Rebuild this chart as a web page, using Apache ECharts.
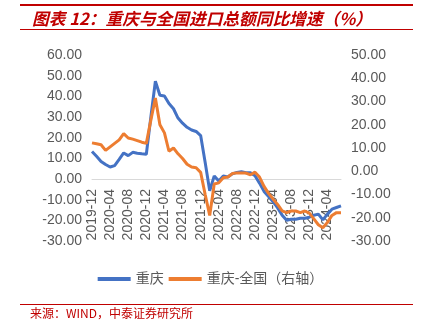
<!DOCTYPE html>
<html>
<head>
<meta charset="utf-8">
<script src="https://cdn.jsdelivr.net/npm/echarts@6/dist/echarts.min.js"></script>
<style>
html,body{margin:0;padding:0;background:#fff;}
#main{width:421px;height:326px;}
</style>
</head>
<body>
<div id="main"></div>
<script>
const categories = [
  '2019-12','2020-01','2020-02','2020-03','2020-04','2020-05','2020-06','2020-07','2020-08','2020-09','2020-10','2020-11',
  '2020-12','2021-01','2021-02','2021-03','2021-04','2021-05','2021-06','2021-07','2021-08','2021-09','2021-10','2021-11',
  '2021-12','2022-01','2022-02','2022-03','2022-04','2022-05','2022-06','2022-07','2022-08','2022-09','2022-10','2022-11',
  '2022-12','2023-01','2023-02','2023-03','2023-04','2023-05','2023-06','2023-07','2023-08','2023-09','2023-10','2023-11',
  '2023-12','2024-01','2024-02','2024-03','2024-04','2024-05','2024-06','2024-07'
];
const chongqing = [
  13.3, 11.0, 8.5, 7.0, 5.8, 6.5, 9.5, 12.6, 11.3, 12.9, 12.5, 12.2,
  12.0, 30.0, 47.3, 40.5, 40.2, 36.5, 34.0, 29.5, 27.0, 25.0, 23.7, 23.0,
  21.0, 8.0, -5.7, 1.5, -1.0, 1.5, 1.0, 2.5, 3.2, 3.5, 3.0, 3.0,
  1.6, -2.0, -6.0, -8.5, -11.0, -14.0, -17.5, -20.0, -19.5, -19.5, -19.0, -19.0,
  -18.5, -17.5, -17.0, -19.8, -17.0, -14.6, -13.8, -13.0
];
const diffVsNational = [
  12.2, 11.8, 11.4, 9.0, 10.5, 12.0, 13.5, 16.2, 14.3, 13.8, 13.2, 12.5,
  12.0, 22.0, 31.5, 20.0, 16.5, 8.6, 10.0, 7.5, 5.5, 3.0, 1.8, 1.5,
  -0.5, -10.0, -19.0, -5.5, -5.0, -2.8, -2.5, -1.0, -0.7, -0.7, -0.8, -1.5,
  -0.4, -2.5, -6.5, -9.5, -12.0, -14.3, -17.0, -17.8, -17.1, -17.1, -17.8, -17.1,
  -18.0, -20.5, -23.0, -24.3, -22.0, -19.0, -17.8, -17.8
];
const seriesNames = ['重庆', '重庆-全国（右轴）'];
const titleText = '图表 12：重庆与全国进口总额同比增速（%）';
const sourceText = '来源：WIND，中泰证券研究所';

const red = '#C00000';
const gray = '#595959';
const font = "'Liberation Sans', 'Noto Sans CJK SC', sans-serif";

const gridTop = 55, gridBottom = 85, chartH = 326;
const plotH = chartH - gridTop - gridBottom;
// distance of the left axis zero from the plot bottom
const zeroOffset = plotH * (0 - (-30)) / (60 - (-30));

const chart = echarts.init(document.getElementById('main'), null, {renderer: 'canvas'});
chart.setOption({
  animation: false,
  backgroundColor: '#fff',
  textStyle: {fontFamily: font},
  grid: {left: 92, right: 80, top: gridTop, bottom: gridBottom, containLabel: false},
  legend: {
    data: seriesNames,
    left: 'center',
    top: 267,
    icon: 'rect',
    itemWidth: 33,
    itemHeight: 4,
    itemGap: 5,
    textStyle: {color: gray, fontSize: 14, fontFamily: font}
  },
  xAxis: {
    type: 'category',
    data: categories,
    boundaryGap: false,
    offset: -zeroOffset,
    axisLine: {onZero: false, lineStyle: {color: '#D9D9D9', width: 1}},
    axisTick: {show: false},
    axisLabel: {interval: 3, rotate: 90, color: gray, fontSize: 14, margin: 10, fontFamily: font},
    splitLine: {show: false}
  },
  yAxis: [
    {
      type: 'value', min: -30, max: 60, interval: 10,
      axisLine: {show: false}, axisTick: {show: false}, splitLine: {show: false},
      axisLabel: {color: gray, fontSize: 14, margin: 10, fontFamily: font,
        formatter: v => v.toFixed(2)}
    },
    {
      type: 'value', min: -30, max: 50, interval: 10,
      axisLine: {show: false}, axisTick: {show: false}, splitLine: {show: false},
      axisLabel: {color: gray, fontSize: 14, margin: 10, fontFamily: font,
        formatter: v => v.toFixed(2)}
    }
  ],
  series: [
    {
      name: seriesNames[0], type: 'line', yAxisIndex: 0, data: chongqing,
      showSymbol: false, symbol: 'none',
      lineStyle: {color: '#4472C4', width: 3}, itemStyle: {color: '#4472C4'}
    },
    {
      name: seriesNames[1], type: 'line', yAxisIndex: 1, data: diffVsNational,
      showSymbol: false, symbol: 'none',
      lineStyle: {color: '#ED7D31', width: 3}, itemStyle: {color: '#ED7D31'}
    }
  ],
  graphic: [
    {type: 'rect', shape: {x: 20, y: 4, width: 393, height: 2}, style: {fill: red}},
    {type: 'text', left: 32, top: 10,
      style: {text: titleText, fill: red,
      font: "italic bold 16.7px 'Noto Sans CJK SC', sans-serif"}},
    {type: 'rect', shape: {x: 20, y: 29, width: 393, height: 1}, style: {fill: red}},
    {type: 'rect', shape: {x: 20, y: 304, width: 393, height: 1}, style: {fill: red}},
    {type: 'text', left: 30, top: 307, style: {text: sourceText, fill: red,
      font: "12px 'Noto Sans CJK SC', sans-serif"}}
  ]
});
</script>
</body>
</html>
